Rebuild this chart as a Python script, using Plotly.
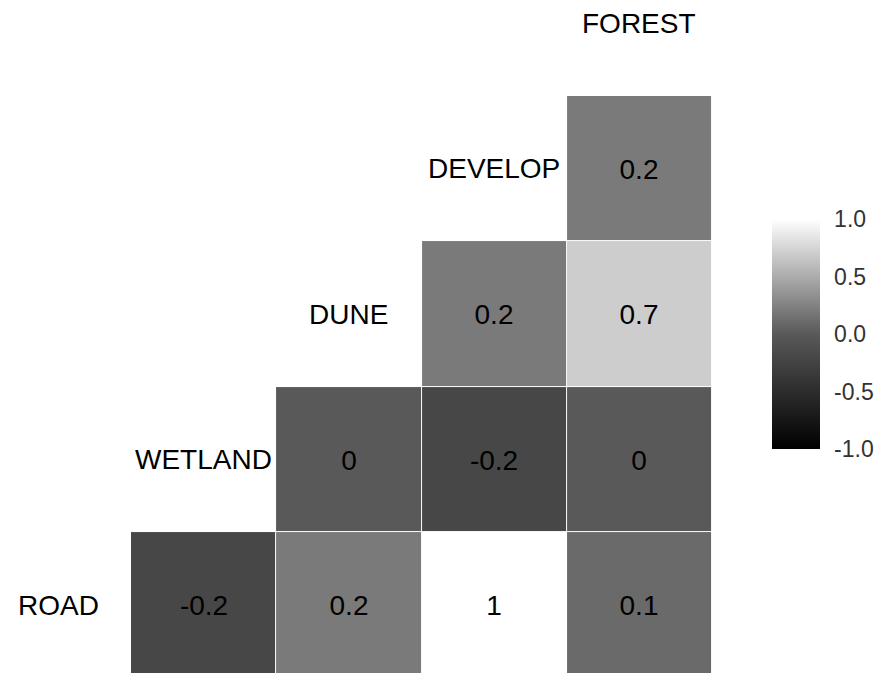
import plotly.graph_objects as go

variables = ["ROAD", "WETLAND", "DUNE", "DEVELOP", "FOREST"]
# rows (bottom to top) and columns (left to right) of the lower triangle
row_vars = ["ROAD", "WETLAND", "DUNE", "DEVELOP"]
col_vars = ["WETLAND", "DUNE", "DEVELOP", "FOREST"]
corr_road = [-0.2, 0.2, 1, 0.1]
corr_wetland = [None, 0, -0.2, 0]
corr_dune = [None, None, 0.2, 0.7]
corr_develop = [None, None, None, 0.2]
cbar_ticks = [-1, -0.5, 0, 0.5, 1]
cbar_labels = ["-1.0", "-0.5", "0.0", "0.5", "1.0"]

z = [corr_road, corr_wetland, corr_dune, corr_develop]
text = [["" if v is None else ("%g" % v) for v in row] for row in z]

xs = [1, 2, 3, 4]
ys = [1, 2, 3, 4]

FONT = "Liberation Sans, Arial"
H = 673
bar_top, bar_bot = 219, 449
bar_center = (bar_top + bar_bot) / 2
bar_len = bar_bot - bar_top

fig = go.Figure()
fig.add_trace(go.Heatmap(
    x=xs, y=ys, z=z, text=text, texttemplate="%{text}",
    textfont=dict(family=FONT, size=28, color="#000000"),
    zmin=-1, zmax=1,
    colorscale=[[0, "#000000"], [0.5, "#595959"], [1, "#ffffff"]],
    xgap=1, ygap=1, hoverongaps=False,
    colorbar=dict(
        x=772 / 712, xanchor="left", xpad=0, ypad=0,
        y=1 - bar_center / H, yanchor="middle",
        thickness=48, lenmode="pixels", len=bar_len,
        outlinewidth=0,
        tickvals=cbar_ticks,
        ticktext=cbar_labels,
        ticks="outside", ticklen=10, tickcolor="#ffffff", tickwidth=1,
        tickfont=dict(family=FONT, size=23, color="#333333"),
    ),
))

for i, name in enumerate(variables):
    fig.add_annotation(
        x=i, y=i + 1, xref="x", yref="y", text=name, showarrow=False,
        font=dict(family=FONT, size=28, color="#000000"),
        xanchor="center", yanchor="middle",
    )

fig.update_xaxes(range=[-0.402, 4.5], visible=False, fixedrange=True)
fig.update_yaxes(range=[0.534, 5.16], visible=False, fixedrange=True)
fig.update_layout(
    width=878, height=673,
    margin=dict(l=0, r=166, t=0, b=0),
    plot_bgcolor="#ffffff", paper_bgcolor="#ffffff",
    showlegend=False,
)
fig.write_html(
    "out.html",
    config={"displayModeBar": False},
    post_script="document.body.style.margin='0';document.body.style.overflow='hidden';",
)
